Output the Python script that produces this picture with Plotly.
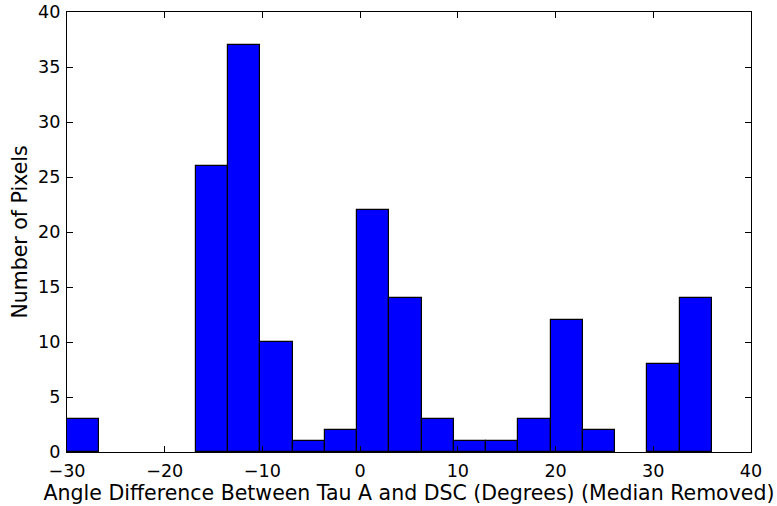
import plotly.graph_objects as go

# Histogram of angle differences, pre-binned
bin_start = -30.0
bin_width = 3.3
counts = [3, 0, 0, 0, 26, 37, 10, 1, 2, 22, 14, 3, 1, 1, 3, 12, 2, 0, 8, 14]

x_ticks = [-30, -20, -10, 0, 10, 20, 30, 40]
y_ticks = [0, 5, 10, 15, 20, 25, 30, 35, 40]

centers = [bin_start + bin_width * (i + 0.5) for i in range(len(counts))]
# empty bins get no outline
edge_widths = [1.2 if c > 0 else 0 for c in counts]

tick_font = dict(family="DejaVu Sans", size=17.6, color="black")
title_font = dict(family="DejaVu Sans", size=20.5, color="black")

fig = go.Figure(
    go.Bar(
        x=centers,
        y=counts,
        width=bin_width,
        marker=dict(color="#0000ff", line=dict(color="black", width=edge_widths)),
    )
)

axis_common = dict(
    showline=True,
    linecolor="black",
    linewidth=1.3,
    mirror="allticks",
    ticks="inside",
    ticklen=6,
    tickwidth=1,
    tickcolor="black",
    showgrid=False,
    zeroline=False,
    tickfont=tick_font,
    automargin=False,
)

fig.update_xaxes(
    range=[-30, 40],
    tickvals=x_ticks,
    ticklabelstandoff=3,
    title=dict(text="Angle Difference Between Tau A and DSC (Degrees) (Median Removed)", font=title_font, standoff=2),
    **axis_common,
)
fig.update_yaxes(
    range=[0, 40],
    tickvals=y_ticks,
    ticklabelstandoff=2,
    title=dict(text="Number of Pixels", font=title_font, standoff=4),
    **axis_common,
)

fig.update_layout(
    width=777,
    height=506,
    margin=dict(l=67, r=26, t=12, b=54),
    plot_bgcolor="white",
    paper_bgcolor="white",
    showlegend=False,
    bargap=0,
)

fig.write_html("out.html")
